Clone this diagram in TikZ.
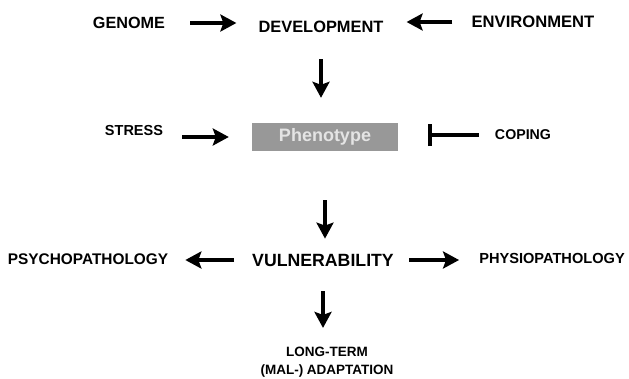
\documentclass[tikz,border=0pt]{standalone}
\usepackage{fontspec}
\setmainfont{Liberation Sans}
\usetikzlibrary{arrows.meta, calc}
\definecolor{boxgray}{RGB}{152,152,152}
\definecolor{textgray}{RGB}{228,228,228}

\begin{document}
\begin{tikzpicture}[x=1pt, y=-1pt,
  term/.style={inner sep=0pt, font=\bfseries\fontsize{#1}{#1}\selectfont},
  term/.default=16,
  block/.style={rectangle, fill=boxgray, minimum width=146pt, minimum height=28pt,
    inner sep=0pt, text=textgray, font=\bfseries\fontsize{18}{18}\selectfont},
  arrow/.style={-{Stealth[length=16pt, width=17pt, inset=3pt]}, line width=4.2pt},
  blocker/.style={-{Bar[width=22pt]}, line width=4.2pt}
]
\useasboundingbox (0,0) rectangle (629,378);

% Top row: origins
\node[term=16.2] (genome) at (129,23) {GENOME};
\node[term=16.4] (devel) at (321,27) {DEVELOPMENT};
\node[term=16.6] (environ) at (533,22) {ENVIRONMENT};

% Middle row: phenotype
\node[block] (pheno) at (325,137) {Phenotype};
\node[term=14.5] (stress) at (134,131) {STRESS};
\node[term=14.2] (coping) at (523,135) {COPING};

% Vulnerability row
\node[term=17.7] (vulner) at (323,260) {VULNERABILITY};
\node[term=15.4] (psycho) at (88,259) {PSYCHOPATHOLOGY};
\node[term=14.6] (physio) at (552,258) {PHYSIOPATHOLOGY};

% Outcome
\node[inner sep=0pt, align=center, font=\bfseries\fontsize{13.5}{17.5}\selectfont] (longterm) at (327,362) {LONG-TERM\\(MAL-) ADAPTATION};

% Arrows
\draw[arrow, shorten <=25pt, shorten >=22pt] (genome.east) -- (genome.east -| devel.west);
\draw[arrow, shorten <=19pt, shorten >=23pt] (environ.west) -- (environ.west -| devel.east);
\draw[arrow, shorten <=26pt, shorten >=25pt] (devel.south) -- (devel.south |- pheno.north);
\draw[arrow, shorten <=19pt, shorten >=23pt] (pheno.west -| stress.east) -- (pheno.west);
\draw[blocker, shorten <=16pt, shorten >=30pt] (coping.west) -- (coping.west -| pheno.east);
\draw[arrow, shorten <=49pt, shorten >=15pt] (pheno.south) -- (pheno.south |- vulner.north);
\draw[arrow, shorten <=18pt, shorten >=17pt] (vulner.west) -- (vulner.west -| psycho.east);
\draw[arrow, shorten <=15pt, shorten >=20pt] (vulner.east) -- (vulner.east -| physio.west);
\draw[arrow, shorten <=25pt, shorten >=19pt] (vulner.south) -- (vulner.south |- longterm.north);

\end{tikzpicture}
\end{document}
